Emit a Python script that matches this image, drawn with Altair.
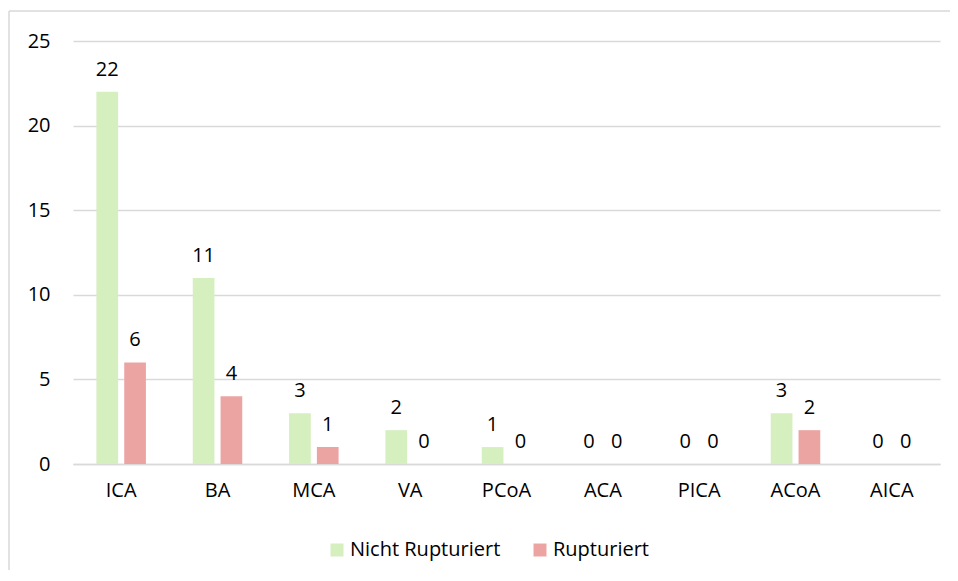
import altair as alt
import pandas as pd

categories = ["ICA", "BA", "MCA", "VA", "PCoA", "ACA", "PICA", "ACoA", "AICA"]
nicht_rupturiert = [22, 11, 3, 2, 1, 0, 0, 3, 0]
rupturiert = [6, 4, 1, 0, 0, 0, 0, 2, 0]
series = ["Nicht Rupturiert", "Rupturiert"]
colors = ["#d5efbf", "#eca4a3"]

rows = []
for c, a, b in zip(categories, nicht_rupturiert, rupturiert):
    rows.append({"cat": c, "series": series[0], "value": a})
    rows.append({"cat": c, "series": series[1], "value": b})
df = pd.DataFrame(rows)

FONT = "Open Sans"
FS = 20

xscale = alt.Scale(paddingInner=0.486, paddingOuter=0.243)
x = alt.X("cat:N", sort=categories, title=None, scale=xscale,
          axis=alt.Axis(labelAngle=0, labelFontSize=FS, labelColor="#000", labelFont=FONT,
                        labelPadding=16, ticks=False, domainColor="#d9d9d9", domainWidth=1.5))
xo = alt.XOffset("series:N", sort=series, scale=alt.Scale(paddingInner=0.22))
yscale = alt.Scale(domain=[0, 25], nice=False, zero=True)
y = alt.Y("value:Q", title=None, stack=None, scale=yscale,
          axis=alt.Axis(values=[0, 5, 10, 15, 20, 25], labelFontSize=FS, labelColor="#000",
                        labelFont=FONT, labelPadding=23, ticks=False, domain=False,
                        gridColor="#d9d9d9", gridWidth=1.3))

color = alt.Color("series:N", sort=series,
                  scale=alt.Scale(domain=series, range=colors),
                  legend=alt.Legend(title=None, orient="none", direction="horizontal",
                                    legendX=254, legendY=499, symbolType="square",
                                    symbolSize=169, symbolStrokeWidth=0, labelFontSize=FS,
                                    labelFont=FONT, labelColor="#000", columnPadding=29,
                                    labelOffset=3, symbolOpacity=1))

base = alt.Chart(df)
bars = base.mark_bar().encode(x=x, xOffset=xo, y=y, color=color)
labels = base.mark_text(baseline="alphabetic", dy=-16, fontSize=FS, font=FONT, color="#000").encode(
    x=alt.X("cat:N", sort=categories, scale=xscale), xOffset=xo,
    y=alt.Y("value:Q", stack=None, scale=yscale), text="value:Q")

frame_df = pd.DataFrame({"v": [0]})
top_edge = alt.Chart(frame_df).mark_rule(color="#d9d9d9", strokeWidth=1.5, clip=False).encode(
    x=alt.value(-64), x2=alt.value(877), y=alt.value(-30))
left_edge = alt.Chart(frame_df).mark_rule(color="#d9d9d9", strokeWidth=1.5, clip=False).encode(
    x=alt.value(-64), y=alt.value(-30), y2=alt.value(600))

chart = alt.layer(top_edge, left_edge, bars, labels).properties(
    width=867, height=423,
    autosize=alt.AutoSizeParams(type="none"),
    padding={"left": 65, "top": 33, "right": 10, "bottom": 106},
).configure(background="white").configure_view(stroke=None)

chart.save("out.html", embed_options={"renderer": "svg", "actions": False})
